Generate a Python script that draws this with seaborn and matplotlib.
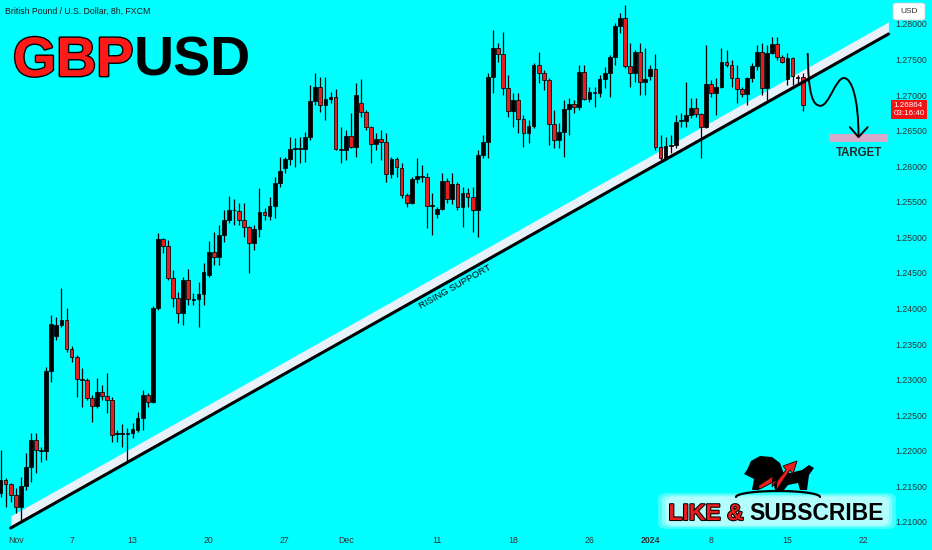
import numpy as np
import pandas as pd
import matplotlib
matplotlib.use("Agg")
import matplotlib.pyplot as plt
import matplotlib.patheffects as pe
from matplotlib.patches import Rectangle, FancyBboxPatch, Polygon, PathPatch
from matplotlib.path import Path
from matplotlib.transforms import Affine2D, blended_transform_factory
import seaborn as sns

# GBPUSD 8h candles (1 Nov 2023 -> 17 Jan 2024)
opens = [1.2141, 1.2159, 1.2153, 1.2138, 1.2121, 1.2151, 1.2177, 1.2215, 1.2201, 1.2200,
         1.2312, 1.2361, 1.2377, 1.2384, 1.2343, 1.2332, 1.2301, 1.2300, 1.2274, 1.2263,
         1.2283, 1.2277, 1.2271, 1.2224, 1.2224, 1.2225, 1.2225, 1.2229, 1.2246, 1.2278,
         1.2269, 1.2401, 1.2498, 1.2488, 1.2443, 1.2415, 1.2394, 1.2440, 1.2413, 1.2413,
         1.2420, 1.2447, 1.2479, 1.2472, 1.2503, 1.2524, 1.2539, 1.2537, 1.2524, 1.2515,
         1.2492, 1.2512, 1.2536, 1.2530, 1.2544, 1.2576, 1.2598, 1.2610, 1.2624, 1.2626,
         1.2624, 1.2641, 1.2692, 1.2711, 1.2686, 1.2695, 1.2697, 1.2624, 1.2623, 1.2643,
         1.2627, 1.2689, 1.2676, 1.2655, 1.2631, 1.2638, 1.2634, 1.2589, 1.2610, 1.2598,
         1.2560, 1.2548, 1.2582, 1.2586, 1.2585, 1.2544, 1.2533, 1.2540, 1.2579, 1.2554,
         1.2575, 1.2543, 1.2562, 1.2557, 1.2539, 1.2616, 1.2634, 1.2725, 1.2766, 1.2758,
         1.2710, 1.2678, 1.2693, 1.2666, 1.2647, 1.2657, 1.2742, 1.2731, 1.2721, 1.2659,
         1.2637, 1.2648, 1.2681, 1.2688, 1.2683, 1.2733, 1.2695, 1.2704, 1.2703, 1.2723,
         1.2731, 1.2754, 1.2797, 1.2808, 1.2741, 1.2731, 1.2761, 1.2718, 1.2727, 1.2737,
         1.2627, 1.2612, 1.2629, 1.2630, 1.2664, 1.2664, 1.2672, 1.2682, 1.2673, 1.2655,
         1.2716, 1.2703, 1.2711, 1.2747, 1.2742, 1.2724, 1.2709, 1.2702, 1.2724, 1.2741,
         1.2761, 1.2710, 1.2759, 1.2772, 1.2754, 1.2723, 1.2752, 1.2725, 1.2725]
highs = [1.2201, 1.2162, 1.2155, 1.2148, 1.2163, 1.2197, 1.2225, 1.2225, 1.2205, 1.2318,
         1.2391, 1.2388, 1.2429, 1.2401, 1.2347, 1.2335, 1.2316, 1.2302, 1.2278, 1.2302,
         1.2293, 1.2309, 1.2276, 1.2229, 1.2238, 1.2232, 1.2239, 1.2255, 1.2286, 1.2281,
         1.2404, 1.2506, 1.2499, 1.2496, 1.2454, 1.2423, 1.2444, 1.2456, 1.2422, 1.2437,
         1.2464, 1.2495, 1.2508, 1.2517, 1.2539, 1.2558, 1.2554, 1.2548, 1.2548, 1.2516,
         1.2517, 1.2569, 1.2541, 1.2557, 1.2585, 1.2613, 1.2613, 1.2641, 1.2640, 1.2641,
         1.2648, 1.2714, 1.2731, 1.2725, 1.2725, 1.2704, 1.2709, 1.2655, 1.2651, 1.2675,
         1.2717, 1.2723, 1.2679, 1.2657, 1.2647, 1.2651, 1.2647, 1.2613, 1.2613, 1.2605,
         1.2562, 1.2585, 1.2612, 1.2602, 1.2591, 1.2562, 1.2543, 1.2591, 1.2584, 1.2591,
         1.2578, 1.2571, 1.2569, 1.2571, 1.2623, 1.2644, 1.2731, 1.2792, 1.2773, 1.2789,
         1.2728, 1.2703, 1.2703, 1.2672, 1.2665, 1.2745, 1.2761, 1.2735, 1.2724, 1.2679,
         1.2661, 1.2693, 1.2696, 1.2693, 1.2742, 1.2742, 1.2711, 1.2711, 1.2728, 1.2740,
         1.2756, 1.2801, 1.2815, 1.2827, 1.2773, 1.2763, 1.2773, 1.2766, 1.2742, 1.2758,
         1.2644, 1.2641, 1.2644, 1.2672, 1.2675, 1.2718, 1.2696, 1.2696, 1.2675, 1.2770,
         1.2721, 1.2724, 1.2766, 1.2763, 1.2749, 1.2742, 1.2711, 1.2725, 1.2745, 1.2770,
         1.2773, 1.2770, 1.2782, 1.2782, 1.2756, 1.2759, 1.2754, 1.2728, 1.2731]
lows = [1.2135, 1.2121, 1.2128, 1.2113, 1.2100, 1.2145, 1.2156, 1.2169, 1.2184, 1.2187,
        1.2297, 1.2356, 1.2374, 1.2339, 1.2325, 1.2276, 1.2262, 1.2271, 1.2241, 1.2260,
        1.2271, 1.2253, 1.2212, 1.2212, 1.2205, 1.2184, 1.2218, 1.2226, 1.2229, 1.2262,
        1.2267, 1.2398, 1.2478, 1.2440, 1.2402, 1.2380, 1.2377, 1.2405, 1.2405, 1.2374,
        1.2405, 1.2445, 1.2461, 1.2461, 1.2494, 1.2520, 1.2517, 1.2517, 1.2501, 1.2450,
        1.2482, 1.2501, 1.2524, 1.2524, 1.2527, 1.2571, 1.2591, 1.2602, 1.2599, 1.2605,
        1.2606, 1.2637, 1.2686, 1.2676, 1.2665, 1.2689, 1.2623, 1.2605, 1.2609, 1.2626,
        1.2613, 1.2669, 1.2651, 1.2605, 1.2623, 1.2609, 1.2578, 1.2584, 1.2585, 1.2555,
        1.2543, 1.2547, 1.2576, 1.2578, 1.2513, 1.2503, 1.2527, 1.2539, 1.2548, 1.2547,
        1.2539, 1.2515, 1.2543, 1.2508, 1.2501, 1.2612, 1.2612, 1.2703, 1.2747, 1.2700,
        1.2669, 1.2655, 1.2647, 1.2627, 1.2633, 1.2654, 1.2717, 1.2707, 1.2630, 1.2626,
        1.2626, 1.2613, 1.2644, 1.2675, 1.2679, 1.2693, 1.2690, 1.2683, 1.2697, 1.2710,
        1.2697, 1.2742, 1.2787, 1.2738, 1.2711, 1.2718, 1.2700, 1.2700, 1.2721, 1.2623,
        1.2609, 1.2609, 1.2619, 1.2626, 1.2655, 1.2655, 1.2668, 1.2669, 1.2612, 1.2654,
        1.2697, 1.2672, 1.2710, 1.2740, 1.2711, 1.2689, 1.2697, 1.2686, 1.2718, 1.2735,
        1.2700, 1.2693, 1.2758, 1.2749, 1.2745, 1.2714, 1.2714, 1.2714, 1.2678]
closes = [1.2159, 1.2153, 1.2138, 1.2121, 1.2151, 1.2177, 1.2215, 1.2201, 1.2200, 1.2312,
          1.2378, 1.2377, 1.2384, 1.2343, 1.2332, 1.2301, 1.2300, 1.2274, 1.2263, 1.2283,
          1.2277, 1.2271, 1.2222, 1.2225, 1.2225, 1.2224, 1.2231, 1.2246, 1.2278, 1.2269,
          1.2401, 1.2498, 1.2488, 1.2443, 1.2415, 1.2394, 1.2440, 1.2413, 1.2412, 1.2420,
          1.2451, 1.2479, 1.2472, 1.2503, 1.2524, 1.2539, 1.2538, 1.2524, 1.2515, 1.2492,
          1.2512, 1.2536, 1.2532, 1.2544, 1.2576, 1.2593, 1.2610, 1.2624, 1.2626, 1.2624,
          1.2641, 1.2692, 1.2711, 1.2686, 1.2695, 1.2697, 1.2624, 1.2623, 1.2643, 1.2627,
          1.2700, 1.2676, 1.2655, 1.2631, 1.2638, 1.2634, 1.2589, 1.2610, 1.2599, 1.2560,
          1.2548, 1.2582, 1.2586, 1.2585, 1.2544, 1.2546, 1.2540, 1.2579, 1.2554, 1.2575,
          1.2543, 1.2562, 1.2557, 1.2539, 1.2616, 1.2634, 1.2725, 1.2766, 1.2758, 1.2710,
          1.2678, 1.2693, 1.2666, 1.2647, 1.2657, 1.2742, 1.2731, 1.2721, 1.2659, 1.2637,
          1.2648, 1.2681, 1.2688, 1.2683, 1.2733, 1.2695, 1.2704, 1.2703, 1.2723, 1.2731,
          1.2754, 1.2797, 1.2808, 1.2741, 1.2731, 1.2761, 1.2718, 1.2723, 1.2737, 1.2627,
          1.2612, 1.2629, 1.2630, 1.2662, 1.2665, 1.2672, 1.2682, 1.2673, 1.2655, 1.2716,
          1.2703, 1.2711, 1.2747, 1.2742, 1.2724, 1.2709, 1.2702, 1.2724, 1.2741, 1.2761,
          1.2710, 1.2759, 1.2772, 1.2754, 1.2747, 1.2752, 1.2727, 1.2724, 1.2686]

# date labels sit at these bar numbers
date_ticks = [3, 14, 26, 41, 56, 68, 86, 101, 116, 128, 140, 155, 170]
date_labels = ["Nov", "7", "13", "20", "27", "Dec", "11", "18", "26", "2024", "8", "15", "22"]

# rising support line (bar number, price) and target zone
support_x = [2.0, 174.9]
support_y = [1.20915, 1.27859]
target_x = [163.1, 174.9]
target_y = [1.2634, 1.2645]
last_price = "1.26864"
countdown = "03:16:40"

BG = "#00ffff"
RED = "#ea1c1c"

df = pd.DataFrame({"open": opens, "high": highs, "low": lows, "close": closes})
df["bar"] = np.arange(len(df))
df["up"] = df["close"] >= df["open"]

sns.set_theme(style="white", rc={"axes.facecolor": BG, "figure.facecolor": BG})
plt.rcParams["font.family"] = ["Liberation Sans", "DejaVu Sans"]

W, H = 932, 550
fig = plt.figure(figsize=(W / 100, H / 100), dpi=100)
ax = fig.add_axes([0, 20 / H, 890 / W, 530 / H])
ax.set_xlim(-0.1, 175.2)
ax.set_ylim(1.20887, 1.28337)

# support band: white strip above a black line
sx = np.array(support_x)
sy = np.array(support_y)
ax.fill_between(sx, sy + 0.0002, sy + 0.0017, color="#e8f0fa", lw=0, zorder=1)

# candles
ax.vlines(df["bar"], df["low"], df["high"], color="black", lw=0.9, zorder=2)
body_lo = df[["open", "close"]].min(axis=1)
body_h = (df["close"] - df["open"]).abs().clip(lower=0.00009)
ax.bar(df["bar"], body_h, bottom=body_lo, width=0.74,
       color=np.where(df["up"], "black", RED), edgecolor="black", linewidth=0.55, zorder=3)

sns.lineplot(x=support_x, y=support_y, ax=ax, color="black", lw=2.2, zorder=4)

ax.text(89.6, 1.2431, "RISING SUPPORT", fontsize=6.8, color="black", rotation=29.5,
        rotation_mode="anchor", ha="center", va="center", zorder=5)

# target zone
ax.add_patch(Rectangle((target_x[0], target_y[0]), target_x[1] - target_x[0],
                       target_y[1] - target_y[0], color="#d6a9c8", lw=0, zorder=2))
ax.text(169.0, 1.2619, "TARGET", fontsize=8.3, weight="bold", ha="center", va="center", zorder=5)

# projected path with arrow
verts = [(159.0, 1.2759), (159.1, 1.2703), (159.9, 1.2685), (161.5, 1.2685),
         (163.2, 1.2685), (164.5, 1.2724), (166.1, 1.2724),
         (167.7, 1.2724), (169.0, 1.2695), (169.0, 1.2641)]
codes = [Path.MOVETO] + [Path.CURVE4] * 9
ax.add_patch(PathPatch(Path(verts, codes), fill=False, lw=1.4, color="black", zorder=5))
ax.plot([167.3, 169.0, 170.8], [1.2655, 1.2641, 1.2655], color="black", lw=1.4, zorder=5)

# axes
ax.yaxis.tick_right()
price_ticks = np.arange(1.21, 1.28001, 0.005)
ax.set_yticks(price_ticks)
ax.set_yticklabels([f"{p:.5f}" for p in price_ticks])
ax.set_xticks(date_ticks)
ax.set_xticklabels(date_labels)
ax.get_xticklabels()[9].set_fontweight("bold")
ax.tick_params(axis="y", length=0, pad=4, labelsize=6.3, labelcolor="#333333")
ax.tick_params(axis="x", length=0, pad=4, labelsize=6.3, labelcolor="#333333")
for s in ax.spines.values():
    s.set_visible(False)
ax.grid(False)

# last price tag
tr = blended_transform_factory(ax.transAxes, ax.transData)
ax.text(1.004, 1.2680, f"{last_price}\n{countdown}", transform=tr, ha="left", va="center",
        fontsize=5.8, color="white", linespacing=1.1, clip_on=False,
        bbox=dict(boxstyle="square,pad=0.3", fc="#f01414", ec="none"))

# figure-pixel helpers
pix = Affine2D().scale(1 / W, -1 / H).translate(0, 1) + fig.transFigure


def fx(x):
    return x / W


def fy(y):
    return 1 - y / H


fig.patches.append(FancyBboxPatch((fx(893), fy(20)), 32 / W, 17 / H,
                                  boxstyle="round,pad=0,rounding_size=0.004",
                                  fc="white", ec="#cccccc", lw=0.5, transform=fig.transFigure))
fig.text(fx(909), fy(11.5), "USD", fontsize=6, color="#333333", ha="center", va="center")

fig.text(fx(5), fy(11.5), "British Pound / U.S. Dollar, 8h, FXCM", fontsize=6.3,
         color="#1a1a1a", ha="left", va="center")

renderer = fig.canvas.get_renderer()

# big title
gbp = fig.text(fx(13), fy(76), "GBP", fontsize=40, weight="bold", color="#ff1a1a",
               ha="left", va="baseline",
               path_effects=[pe.withStroke(linewidth=2, foreground="black")])
bb = gbp.get_window_extent(renderer=renderer)
fig.text(bb.x1 / W, fy(76), "USD", fontsize=40, weight="bold", color="black",
         ha="left", va="baseline")

# like & subscribe badge with a soft glow
for pad, col in [(10, "#66fefe"), (6, "#99fefe"), (3, "#c8ffff")]:
    fig.patches.append(FancyBboxPatch((fx(668 - pad), fy(524 + pad * 0.5)), (218 + 2 * pad) / W,
                                      (26 + pad) / H,
                                      boxstyle="round,pad=0,rounding_size=0.01",
                                      fc=col, ec="none", alpha=0.7, transform=fig.transFigure))
sub = fig.text(fx(884), fy(520), "SUBSCRIBE", fontsize=16.5, weight="bold", color="black",
               ha="right", va="baseline")
bb = sub.get_window_extent(renderer=renderer)
fig.text((bb.x0 - 6) / W, fy(520), "LIKE &", fontsize=16.5, weight="bold", color=RED,
         ha="right", va="baseline",
         path_effects=[pe.withStroke(linewidth=1.5, foreground="black")])

# bull & bear logo
bear = [(747, 470), (751, 461), (760, 456), (772, 457), (780, 463), (784, 474), (782, 490),
        (775, 490), (773, 481), (763, 483), (759, 490), (752, 490), (754, 479), (744, 474)]
bull = [(778, 472), (790, 473), (802, 470), (809, 465), (814, 468), (809, 475), (807, 490),
        (800, 490), (798, 483), (788, 485), (784, 490), (778, 490)]
arrow = [(758, 486), (773, 476), (772, 487), (786, 470), (783, 466), (797, 461), (793, 474),
         (790, 470), (776, 491), (777, 480), (760, 489)]
fig.patches.append(Polygon(bear, closed=True, fc="black", ec="none", transform=pix))
fig.patches.append(Polygon(bull, closed=True, fc="black", ec="none", transform=pix))
fig.patches.append(Polygon(arrow, closed=True, fc=RED, ec="black", lw=0.6, transform=pix))
arc_t = np.linspace(0, np.pi, 40)
fig.lines.append(plt.Line2D(778 + 42 * np.cos(arc_t), 497 - 6 * np.sin(arc_t),
                            color="black", lw=1.6, transform=pix))

fig.savefig("out.png", dpi=100, facecolor=BG)
